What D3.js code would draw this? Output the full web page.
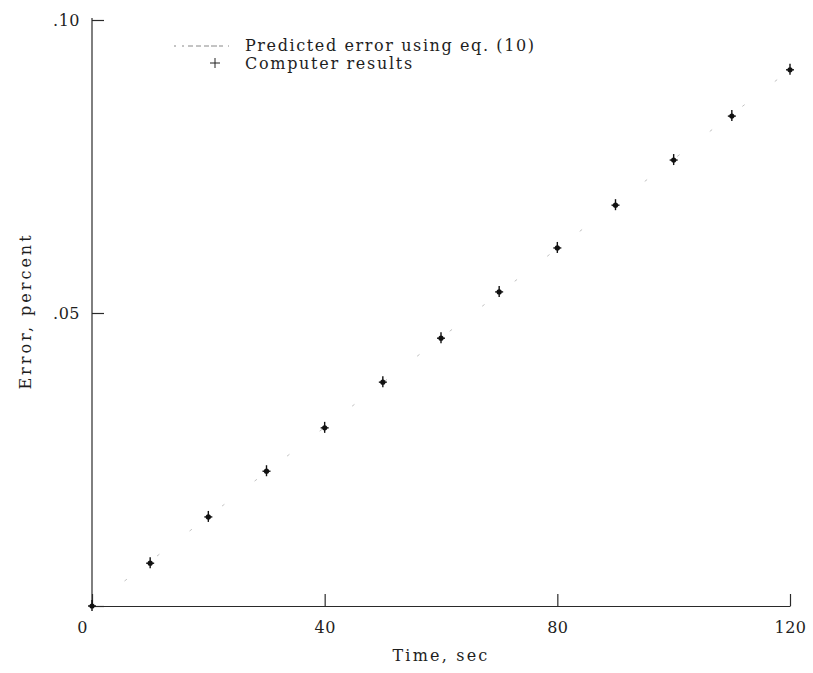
<!DOCTYPE html>
<html>
<head>
<meta charset="utf-8">
<script src="https://cdn.jsdelivr.net/npm/d3@7"></script>
<style>
  body { margin: 0; background: #fff; }
  svg { display: block; }
  text { font-family: "DejaVu Serif", "Liberation Serif", serif; fill: #1e1e1e; }
</style>
</head>
<body>
<svg id="chart" width="813" height="673"></svg>
<script>
// Computed error vs. time
const timeSec = [0, 10, 20, 30, 40, 50, 60, 70, 80, 90, 100, 110, 120];
const computedError = [0, 0.0073, 0.0152, 0.0230, 0.0304, 0.0382, 0.0457, 0.0536, 0.0611, 0.0684, 0.0761, 0.0836, 0.0915];
// Prediction from eq. (10): straight line through the origin
const predictedTime = [0, 120];
const predictedError = [0, 0.0915];
const xTicks = [0, 40, 80, 120];
const yTicks = [0, 0.05, 0.10];

const svg = d3.select("#chart");
const x = d3.scaleLinear().domain([0, 120]).range([92, 790]);
const y = d3.scaleLinear().domain([0, 0.10]).range([606, 20]);

const ink = "#2a2a2a";
const font = "DejaVu Serif, serif";

// x axis with ticks pointing up into the plot
const xAxis = svg.append("g").attr("transform", `translate(0,${y(0)})`)
  .call(d3.axisBottom(x).tickValues(xTicks).tickSize(-12).tickSizeOuter(0).tickPadding(16).tickFormat(d3.format("d")));
xAxis.select(".domain").attr("stroke", ink).attr("stroke-width", 1.2);
xAxis.selectAll(".tick line").attr("stroke", ink).attr("stroke-width", 1.2);
xAxis.selectAll(".tick text").attr("font-size", 16).attr("fill", ink)
  .attr("font-family", font).attr("letter-spacing", 0.5)
  .attr("dx", d => d === 0 ? -10 : 0);

// y axis with ticks pointing right into the plot
const yAxis = svg.append("g").attr("transform", `translate(${x(0)},0)`)
  .call(d3.axisLeft(y).tickValues(yTicks).tickSize(-12).tickSizeOuter(0).tickPadding(12)
    .tickFormat(d => d === 0 ? "" : d3.format(".2f")(d).replace(/^0/, "")));
yAxis.select(".domain").attr("stroke", ink).attr("stroke-width", 1.2).attr("d", `M0,${y(0)}V18`);
yAxis.selectAll(".tick line").attr("stroke", ink).attr("stroke-width", 1.2);
yAxis.selectAll(".tick text").attr("font-size", 16).attr("fill", ink)
  .attr("font-family", font).attr("letter-spacing", 0.5);

// Axis titles
svg.append("text").attr("x", 441).attr("y", 661).attr("text-anchor", "middle")
  .attr("font-size", 16).attr("letter-spacing", 2.2).text("Time, sec");
svg.append("text").attr("transform", `translate(31,${y(0.05) - 2}) rotate(-90)`)
  .attr("text-anchor", "middle").attr("font-size", 16).attr("letter-spacing", 3).text("Error, percent");

// Predicted line (faint dashed)
const line = d3.line().x((d, i) => x(predictedTime[i])).y(d => y(d));
svg.append("path").datum(predictedError).attr("d", line)
  .attr("fill", "none").attr("stroke", "#aaa").attr("stroke-width", 0.9)
  .attr("stroke-dasharray", "3,38").attr("opacity", 0.8);

// Computer results as plus markers
const marks = svg.append("g").selectAll("g").data(timeSec).join("g")
  .attr("transform", (d, i) => `translate(${x(d)},${y(computedError[i])})`);
marks.append("line").attr("x1", 0).attr("x2", 0).attr("y1", -6).attr("y2", 5)
  .attr("stroke", "#111").attr("stroke-width", 1.4);
marks.append("line").attr("x1", -4).attr("x2", 4).attr("y1", 0).attr("y2", 0)
  .attr("stroke", "#111").attr("stroke-width", 1.4);
marks.append("circle").attr("r", 2.6).attr("fill", "#111");

// Legend
const lg = svg.append("g");
lg.append("line").attr("x1", 174).attr("x2", 229).attr("y1", 46).attr("y2", 46)
  .attr("stroke", "#888").attr("stroke-width", 1).attr("stroke-dasharray", "2,6,2,4,5,3,5,3,5");
lg.append("text").attr("x", 245).attr("y", 51).attr("font-size", 16).attr("letter-spacing", 1.6)
  .text("Predicted error using eq. (10)");
lg.append("line").attr("x1", 215).attr("x2", 215).attr("y1", 58).attr("y2", 68).attr("stroke", "#222").attr("stroke-width", 1);
lg.append("line").attr("x1", 210).attr("x2", 220).attr("y1", 63).attr("y2", 63).attr("stroke", "#222").attr("stroke-width", 1);
lg.append("text").attr("x", 245).attr("y", 69).attr("font-size", 16).attr("letter-spacing", 1.7)
  .text("Computer results");
</script>
</body>
</html>
